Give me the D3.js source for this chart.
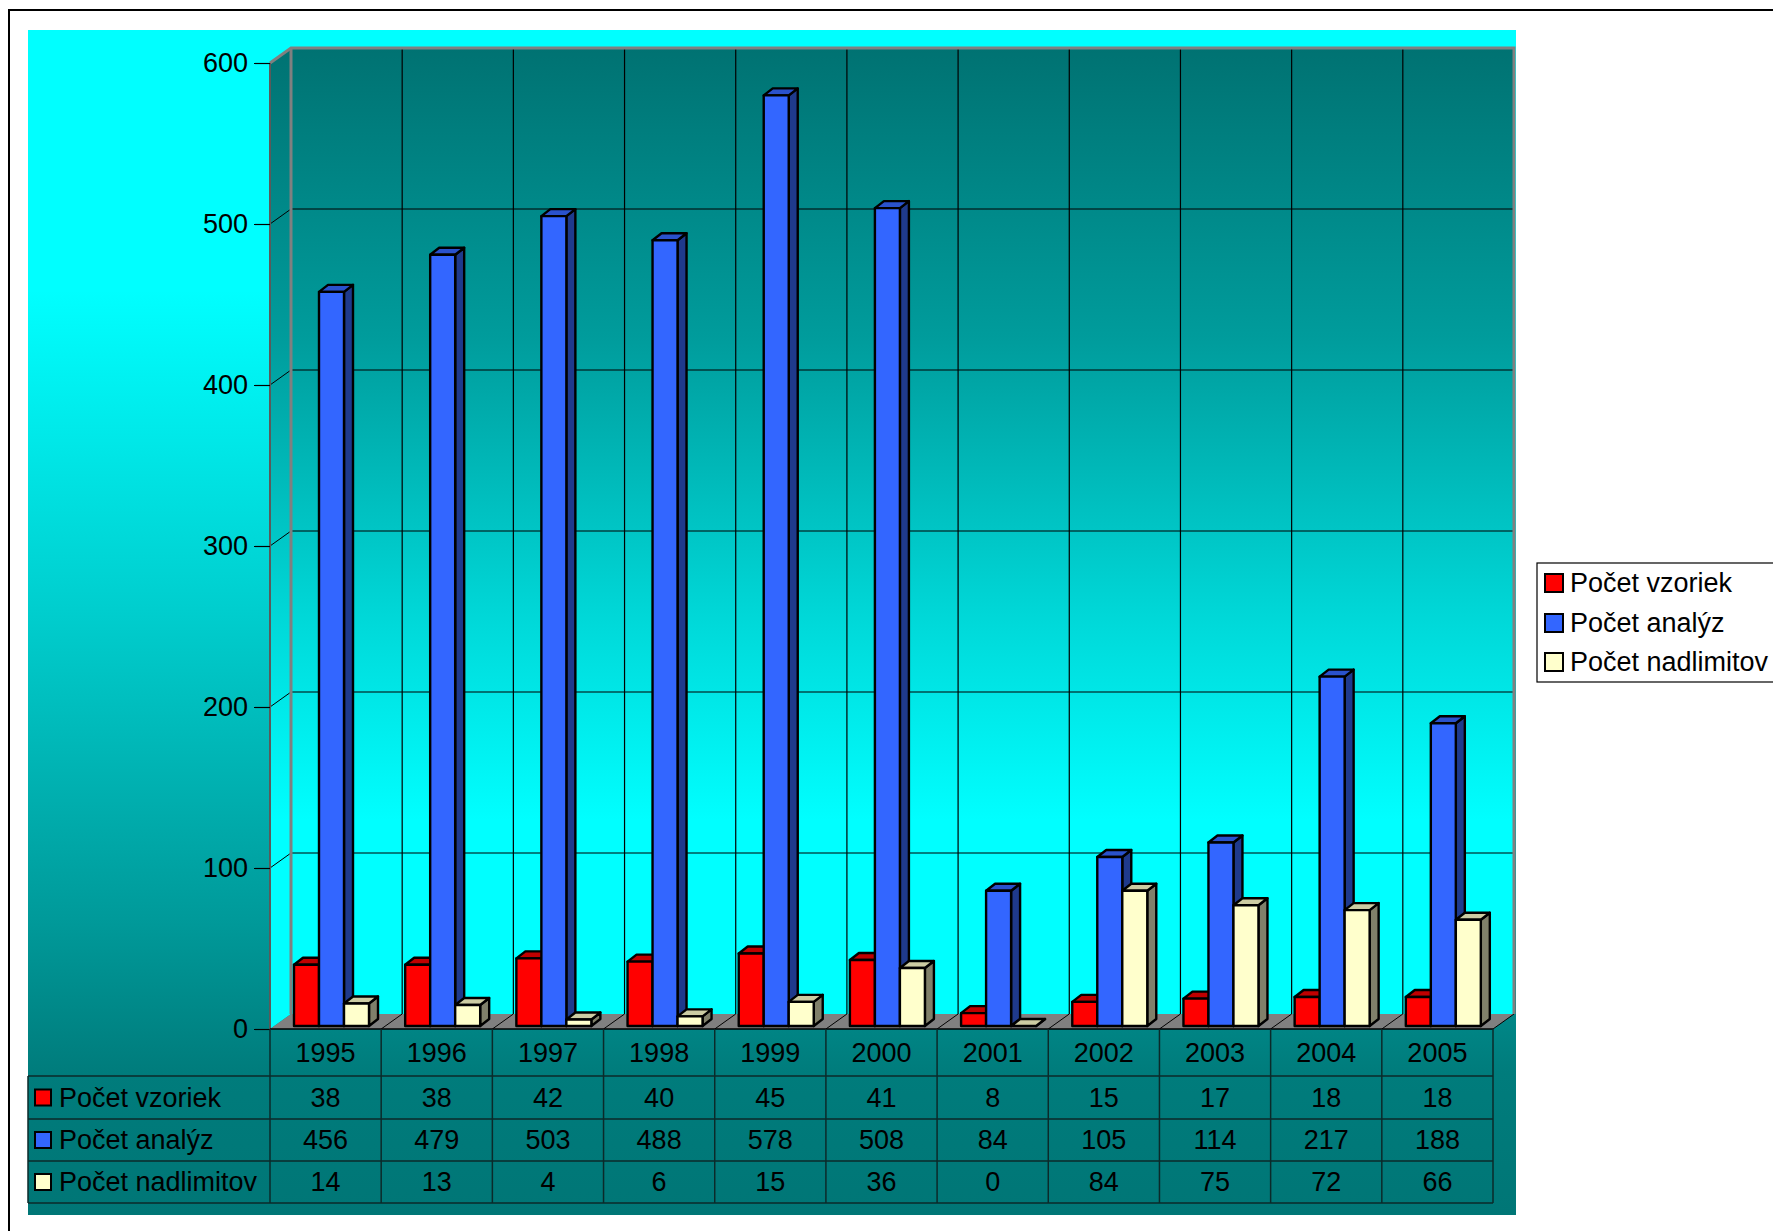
<!DOCTYPE html>
<html>
<head>
<meta charset="utf-8">
<script src="https://cdn.jsdelivr.net/npm/d3@7/dist/d3.min.js"></script>
<style>
  html, body { margin: 0; padding: 0; background: #ffffff; }
  svg { display: block; }
  text { font-family: "Liberation Sans", Arial, sans-serif; }
</style>
</head>
<body>
<svg id="chart" width="1773" height="1231"></svg>
<script>
// Samples, analyses and over-limit results per year
const years = ["1995", "1996", "1997", "1998", "1999", "2000", "2001", "2002", "2003", "2004", "2005"];
const seriesNames = ["Počet vzoriek", "Počet analýz", "Počet nadlimitov"];
const vzoriek = [38, 38, 42, 40, 45, 41, 8, 15, 17, 18, 18];
const analyz = [456, 479, 503, 488, 578, 508, 84, 105, 114, 217, 188];
const nadlimitov = [14, 13, 4, 6, 15, 36, 0, 84, 75, 72, 66];
const yTicks = [0, 100, 200, 300, 400, 500, 600];

const seriesValues = [vzoriek, analyz, nadlimitov];
const faceColors = [
  { front: "#ff0000", top: "#c00000", side: "#900000" },
  { front: "#3366ff", top: "#2a52cc", side: "#1f3a8c" },
  { front: "#ffffcc", top: "#cccca3", side: "#80806a" }
];

const svg = d3.select("#chart");
const FONT = 27;

// Plot geometry
const left = 270, right = 1493, base = 1029, topY = 63;
const DX = 21, DY = -15;           // depth of walls / floor
const BX = 4, BY = -3;             // bar front plane offset
const BDX = 9, BDY = -7;           // bar depth

const x = d3.scaleBand().domain(years).range([left, right]);
const y = d3.scaleLinear().domain([0, 600]).range([base, topY]);
const xs = d3.scaleBand().domain(seriesNames).range([20, 95]);

// Gradients
const defs = svg.append("defs");
const bgGrad = defs.append("linearGradient").attr("id", "bgGrad")
  .attr("gradientUnits", "userSpaceOnUse").attr("x1", 0).attr("y1", 30).attr("x2", 0).attr("y2", 1215);
[[0, "#00ffff"], [0.22, "#00ffff"], [0.5, "#00cccc"], [0.75, "#009a9a"], [0.88, "#007c7c"], [1, "#007676"]]
  .forEach(([o, c]) => bgGrad.append("stop").attr("offset", o).attr("stop-color", c));
const wallGrad = defs.append("linearGradient").attr("id", "wallGrad")
  .attr("gradientUnits", "userSpaceOnUse").attr("x1", 0).attr("y1", topY + DY).attr("x2", 0).attr("y2", base + DY);
[[0, "#007272"], [0.3, "#009c9c"], [0.6, "#00dada"], [0.8, "#00ffff"], [1, "#00ffff"]]
  .forEach(([o, c]) => wallGrad.append("stop").attr("offset", o).attr("stop-color", c));

// Chart area background
svg.append("rect").attr("x", 28).attr("y", 30).attr("width", 1516 - 28).attr("height", 1215 - 30)
  .attr("fill", "url(#bgGrad)");

// Back wall and side wall
svg.append("rect").attr("x", left + DX).attr("y", topY + DY)
  .attr("width", right + DX - (left + DX)).attr("height", base - topY)
  .attr("fill", "url(#wallGrad)");
svg.append("path")
  .attr("d", `M${left},${topY} L${left + DX},${topY + DY} L${left + DX},${base + DY} L${left},${base} Z`)
  .attr("fill", "url(#wallGrad)");

// Horizontal gridlines on back and side wall
const grid = svg.append("g").attr("stroke", "#000").attr("stroke-width", 1).attr("fill", "none");
yTicks.filter(t => t > 0 && t < 600).forEach(t => {
  grid.append("line").attr("x1", left + DX).attr("x2", right + DX)
    .attr("y1", y(t) + DY).attr("y2", y(t) + DY);
  grid.append("line").attr("x1", left).attr("x2", left + DX)
    .attr("y1", y(t)).attr("y2", y(t) + DY);
});
// Vertical gridlines at category boundaries on the back wall
years.slice(1).forEach(yr => {
  grid.append("line").attr("x1", x(yr) + DX).attr("x2", x(yr) + DX)
    .attr("y1", topY + DY).attr("y2", base + DY).attr("stroke", "#000").attr("stroke-width", 1.2);
});

// Floor
svg.append("path")
  .attr("d", `M${left},${base} L${right},${base} L${right + DX},${base + DY} L${left + DX},${base + DY} Z`)
  .attr("fill", "#808080");
years.slice(1).forEach(yr => {
  svg.append("line").attr("x1", x(yr)).attr("y1", base).attr("x2", x(yr) + DX).attr("y2", base + DY)
    .attr("stroke", "#000").attr("stroke-width", 1);
});
svg.append("line").attr("x1", right).attr("y1", base).attr("x2", right + DX).attr("y2", base + DY)
  .attr("stroke", "#000").attr("stroke-width", 1);

// Wall edges
const edges = svg.append("g").attr("fill", "none").attr("stroke", "#808080").attr("stroke-width", 3);
edges.append("path").attr("d",
  `M${left},${topY} L${left + DX},${topY + DY} L${right + DX},${topY + DY} L${right + DX},${base + DY}`);
edges.append("line").attr("x1", left + DX).attr("y1", topY + DY).attr("x2", left + DX).attr("y2", base + DY);
svg.append("line").attr("x1", left).attr("y1", topY).attr("x2", left).attr("y2", base)
  .attr("stroke", "#5a5a5a").attr("stroke-width", 2);

// 3D columns
const bars = svg.append("g").attr("stroke", "#000").attr("stroke-width", 2.4).attr("stroke-linejoin", "round");
years.forEach((yr, i) => {
  seriesNames.forEach((name, s) => {
    const v = seriesValues[s][i];
    const w = xs.bandwidth();
    const x0 = x(yr) + xs(name) + BX;
    const yb = y(0) + BY;
    const yt = y(v) + BY;
    const c = faceColors[s];
    const g = bars.append("g");
    g.append("path").attr("fill", c.side)
      .attr("d", `M${x0 + w},${yt} L${x0 + w + BDX},${yt + BDY} L${x0 + w + BDX},${yb + BDY} L${x0 + w},${yb} Z`);
    g.append("path").attr("fill", c.top)
      .attr("d", `M${x0},${yt} L${x0 + BDX},${yt + BDY} L${x0 + w + BDX},${yt + BDY} L${x0 + w},${yt} Z`);
    if (v > 0) {
      g.append("rect").attr("fill", c.front).attr("x", x0).attr("y", yt).attr("width", w).attr("height", yb - yt);
    }
  });
});

// Value axis
const axis = svg.append("g").attr("transform", `translate(${left},0)`)
  .call(d3.axisLeft(y).tickValues(yTicks).tickSize(16).tickPadding(6).tickFormat(d3.format("d")));
axis.select(".domain").remove();
axis.selectAll(".tick line").attr("stroke", "#000").attr("stroke-width", 1.2);
axis.selectAll(".tick text").attr("fill", "#000").style("font-size", FONT + "px")
  .style("font-family", "'Liberation Sans', Arial, sans-serif");

// Data table
const rowEdges = [base, 1076, 1119, 1161, 1203];
const tableLeft = 28;
const table = svg.append("g");
const tl = table.append("g").attr("stroke", "#0b2a2a").attr("stroke-width", 1.5);
tl.append("line").attr("x1", left).attr("x2", right).attr("y1", base).attr("y2", base).attr("stroke", "#000");
rowEdges.slice(1).forEach(r => {
  tl.append("line").attr("x1", tableLeft).attr("x2", right).attr("y1", r).attr("y2", r);
});
tl.append("line").attr("x1", tableLeft).attr("x2", tableLeft).attr("y1", rowEdges[1]).attr("y2", rowEdges[4]);
years.forEach(yr => {
  tl.append("line").attr("x1", x(yr)).attr("x2", x(yr)).attr("y1", base).attr("y2", rowEdges[4]);
});
tl.append("line").attr("x1", right).attr("x2", right).attr("y1", base).attr("y2", rowEdges[4]);

// Year header row
table.selectAll("text.year").data(years).join("text")
  .attr("class", "year")
  .attr("x", d => x(d) + x.bandwidth() / 2)
  .attr("y", (rowEdges[0] + rowEdges[1]) / 2)
  .attr("text-anchor", "middle").attr("dominant-baseline", "central")
  .style("font-size", FONT + "px").attr("fill", "#000")
  .text(d => d);

// Series rows
seriesNames.forEach((name, s) => {
  const cy = (rowEdges[s + 1] + rowEdges[s + 2]) / 2;
  table.append("rect").attr("x", 35).attr("y", cy - 8).attr("width", 16).attr("height", 16)
    .attr("fill", faceColors[s].front).attr("stroke", "#000").attr("stroke-width", 2);
  table.append("text").attr("x", 59).attr("y", cy).attr("dominant-baseline", "central")
    .style("font-size", FONT + "px").attr("fill", "#000").text(name);
  table.selectAll(null).data(years).join("text")
    .attr("x", d => x(d) + x.bandwidth() / 2).attr("y", cy)
    .attr("text-anchor", "middle").attr("dominant-baseline", "central")
    .style("font-size", FONT + "px").attr("fill", "#000")
    .text((d, i) => seriesValues[s][i]);
});

// Legend
const legend = svg.append("g");
legend.append("rect").attr("x", 1537).attr("y", 563).attr("width", 320).attr("height", 119)
  .attr("fill", "#fff").attr("stroke", "#000").attr("stroke-width", 1.2);
const legendY = [583, 623, 662];
seriesNames.forEach((name, s) => {
  legend.append("rect").attr("x", 1545).attr("y", legendY[s] - 9).attr("width", 18).attr("height", 18)
    .attr("fill", faceColors[s].front).attr("stroke", "#000").attr("stroke-width", 2);
  legend.append("text").attr("x", 1570).attr("y", legendY[s]).attr("dominant-baseline", "central")
    .style("font-size", FONT + "px").attr("fill", "#000").text(name);
});

// Outer frame
svg.append("rect").attr("x", 9).attr("y", 10).attr("width", 1900).attr("height", 1400)
  .attr("fill", "none").attr("stroke", "#000").attr("stroke-width", 2);
</script>
</body>
</html>
